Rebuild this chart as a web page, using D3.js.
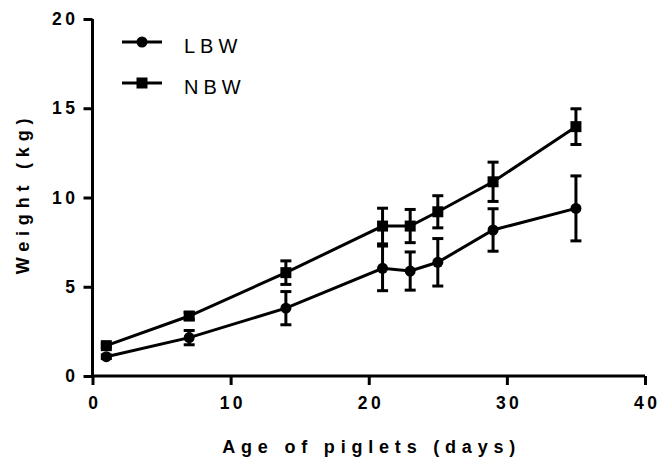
<!DOCTYPE html>
<html lang="en">
  <head>
    <meta charset="utf-8" />
    <title>Piglet weight</title>
    <script src="https://d3js.org/d3.v7.min.js"></script>
    <style>
      body { margin: 0; background: #fff; }
      text { font-family: "Liberation Sans", Arial, sans-serif; }
    </style>
  </head>
  <body>
    <div id="chart"></div>
    <script>
      // data
      const days = [1, 7, 14, 21, 23, 25, 29, 35];
      const lbwMean = [1.08, 2.15, 3.8, 6.03, 5.88, 6.37, 8.18, 9.39];
      const lbwErr = [0.1, 0.4, 0.93, 1.25, 1.07, 1.33, 1.19, 1.82];
      const nbwMean = [1.7, 3.36, 5.79, 8.4, 8.4, 9.2, 10.88, 13.97];
      const nbwErr = [0.1, 0.2, 0.66, 1.0, 0.93, 0.9, 1.1, 1.0];
      const xTicks = [0, 10, 20, 30, 40];
      const yTicks = [0, 5, 10, 15, 20];

      const W = 659, H = 463;
      const m = { left: 92.5, right: 14, top: 19, bottom: 87 };
      const tickLs = 3.5, titleLs = 5.8;

      const svg = d3.select("#chart").append("svg")
        .attr("width", W).attr("height", H);

      const x = d3.scaleLinear().domain([0, 40]).range([m.left, W - m.right]);
      const y = d3.scaleLinear().domain([0, 20]).range([H - m.bottom, m.top]);

      // axes
      const xAxis = svg.append("g")
        .attr("transform", `translate(0,${H - m.bottom})`)
        .call(d3.axisBottom(x).tickValues(xTicks).tickSize(9).tickPadding(12).tickFormat(d3.format("d")));
      const yAxis = svg.append("g")
        .attr("transform", `translate(${m.left},0)`)
        .call(d3.axisLeft(y).tickValues(yTicks).tickSize(9).tickPadding(5).tickFormat(d3.format("d")));

      [xAxis, yAxis].forEach((g) => {
        g.select(".domain").attr("stroke", "#000").attr("stroke-width", 3)
          .attr("d", g === xAxis ? `M${x(0)},0H${x(40)}` : `M0,${y(0)}V${y(20)}`);
        g.selectAll(".tick line").attr("stroke", "#000").attr("stroke-width", 3);
        g.selectAll(".tick text")
          .attr("fill", "#000")
          .attr("font-size", null)
          .style("font-size", "17.5px")
          .style("font-weight", "bold")
          .style("letter-spacing", tickLs + "px");
      });
      xAxis.selectAll(".tick text").attr("dx", tickLs / 2);

      // axis titles
      svg.append("text")
        .attr("x", (x(0) + x(40)) / 2 + titleLs / 2).attr("y", 453)
        .attr("text-anchor", "middle")
        .style("font-size", "18px").style("font-weight", "bold").style("letter-spacing", titleLs + "px")
        .text("Age of piglets (days)");
      svg.append("text")
        .attr("transform", `translate(29,${(y(0) + y(20)) / 2 - 4}) rotate(-90)`)
        .attr("text-anchor", "middle")
        .style("font-size", "18px").style("font-weight", "bold").style("letter-spacing", titleLs + "px")
        .text("Weight (kg)");

      const line = d3.line().x((d) => x(d[0])).y((d) => y(d[1]));
      const series = [
        { name: "LBW", mean: lbwMean, err: lbwErr, shape: "circle" },
        { name: "NBW", mean: nbwMean, err: nbwErr, shape: "square" },
      ];

      series.forEach((s) => {
        const pts = days.map((d, i) => [d, s.mean[i], s.err[i]]);
        const g = svg.append("g");
        g.append("path").datum(pts)
          .attr("d", line).attr("fill", "none")
          .attr("stroke", "#000").attr("stroke-width", 3);

        // error bars
        const eb = g.selectAll(".eb").data(pts).enter().append("g");
        eb.append("line")
          .attr("x1", (d) => x(d[0])).attr("x2", (d) => x(d[0]))
          .attr("y1", (d) => y(d[1] - d[2])).attr("y2", (d) => y(d[1] + d[2]))
          .attr("stroke", "#000").attr("stroke-width", 3);
        [-1, 1].forEach((sgn) => {
          eb.append("line")
            .attr("x1", (d) => x(d[0]) - 5.5).attr("x2", (d) => x(d[0]) + 5.5)
            .attr("y1", (d) => y(d[1] + sgn * d[2])).attr("y2", (d) => y(d[1] + sgn * d[2]))
            .attr("stroke", "#000").attr("stroke-width", 3);
        });

        // markers
        if (s.shape === "circle") {
          g.selectAll(".mk").data(pts).enter().append("circle")
            .attr("cx", (d) => x(d[0])).attr("cy", (d) => y(d[1]))
            .attr("r", 5.5).attr("fill", "#000");
        } else {
          g.selectAll(".mk").data(pts).enter().append("rect")
            .attr("x", (d) => x(d[0]) - 5.5).attr("y", (d) => y(d[1]) - 5.5)
            .attr("width", 11).attr("height", 11).attr("fill", "#000");
        }
      });

      // legend
      const leg = svg.append("g");
      series.forEach((s, i) => {
        const ly = 42 + i * 41;
        leg.append("line").attr("x1", 122).attr("x2", 162).attr("y1", ly).attr("y2", ly)
          .attr("stroke", "#000").attr("stroke-width", 3);
        if (s.shape === "circle") {
          leg.append("circle").attr("cx", 142).attr("cy", ly).attr("r", 5.5).attr("fill", "#000");
        } else {
          leg.append("rect").attr("x", 136.5).attr("y", ly - 5.5).attr("width", 11).attr("height", 11).attr("fill", "#000");
        }
        leg.append("text").attr("x", 184).attr("y", ly + 10.5)
          .style("font-size", "20px").style("letter-spacing", "5px")
          .text(s.name);
      });
    </script>
  </body>
</html>
